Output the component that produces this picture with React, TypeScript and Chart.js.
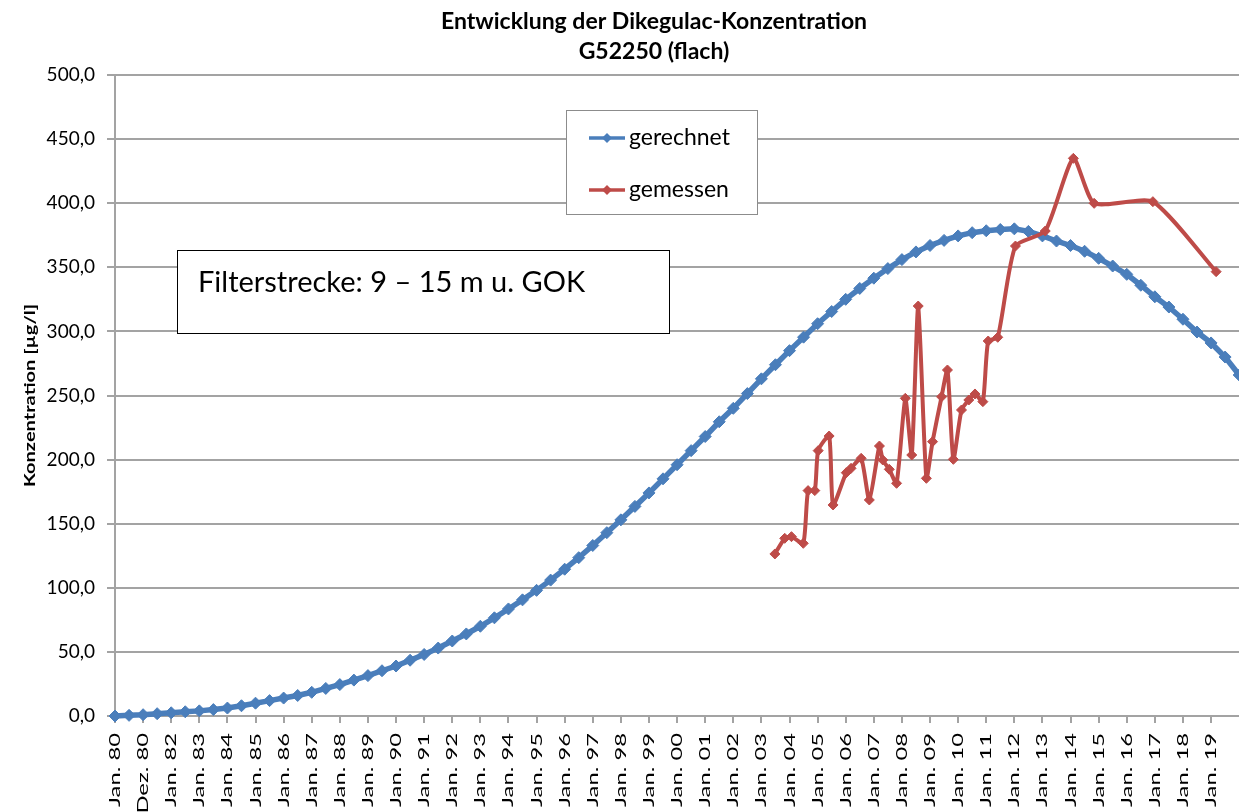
import React, { useEffect, useRef } from 'react';
import { Chart, registerables } from 'chart.js';

Chart.register(...registerables);

const chartTitle = ['Entwicklung der Dikegulac-Konzentration', 'G52250 (flach)'];
const yAxisTitle = 'Konzentration [µg/l]';
const noteText = 'Filterstrecke: 9 – 15 m u. GOK';
const seriesNames = ['gerechnet', 'gemessen'];

const xTickLabels = [
  'Jan. 80', 'Dez. 80', 'Jan. 82', 'Jan. 83', 'Jan. 84', 'Jan. 85', 'Jan. 86', 'Jan. 87', 'Jan. 88', 'Jan. 89',
  'Jan. 90', 'Jan. 91', 'Jan. 92', 'Jan. 93', 'Jan. 94', 'Jan. 95', 'Jan. 96', 'Jan. 97', 'Jan. 98', 'Jan. 99',
  'Jan. 00', 'Jan. 01', 'Jan. 02', 'Jan. 03', 'Jan. 04', 'Jan. 05', 'Jan. 06', 'Jan. 07', 'Jan. 08', 'Jan. 09',
  'Jan. 10', 'Jan. 11', 'Jan. 12', 'Jan. 13', 'Jan. 14', 'Jan. 15', 'Jan. 16', 'Jan. 17', 'Jan. 18', 'Jan. 19',
];
const xStartYear = 1980;
const xEndYear = 2022.2;
const yMin = 0;
const yMax = 500;
const yStep = 50;

// "gerechnet": half-yearly values from Jan. 1980
const calcStep = 0.5;
const calcValues = [
  0, 0.5, 1, 1.8, 2.5, 3.3, 4, 5, 6.2, 8,
  10, 12, 14, 16, 18.5, 21.5, 24.5, 28, 31.5, 35.3,
  39, 43.5, 48, 53, 58.5, 64, 70, 76.6, 83.5, 90.6,
  98, 106, 114.5, 123.5, 133, 143, 153, 163.5, 174, 185,
  196, 207, 218, 229.5, 240, 251.5, 263, 274, 285, 295.5,
  306, 315.5, 325, 333.5, 341.5, 349, 356, 362, 367, 371,
  374.5, 377, 378.5, 379.5, 380, 378, 374.5, 370.5, 367, 362.5,
  357, 351, 344.5, 336, 327, 319, 309.5, 299.5, 291, 280,
  266,
];

// "gemessen": measurement dates (decimal years) and values
const measYears = [
  2003.48, 2003.83, 2004.07, 2004.49, 2004.66, 2004.90, 2005.02, 2005.41, 2005.55, 2006.02,
  2006.19, 2006.55, 2006.84, 2007.20, 2007.32, 2007.55, 2007.81, 2008.12, 2008.35, 2008.58,
  2008.87, 2009.09, 2009.41, 2009.62, 2009.83, 2010.12, 2010.38, 2010.60, 2010.88, 2011.07,
  2011.41, 2012.04, 2013.10, 2014.10, 2014.84, 2016.93, 2019.18,
];
const measValues = [
  126.4, 138.6, 139.9, 134.7, 175.8, 175.8, 207, 218.4, 164.6, 189.8,
  193.2, 201, 168.5, 210.6, 199.7, 192.4, 181.5, 247.8, 203.6, 319.8,
  185.4, 214, 249, 269.9, 200.2, 238.7, 246.5, 251.2, 245.2, 292.5,
  295.4, 366.6, 378.3, 435, 399.9, 401.2, 346.6,
];

const blue = '#4A7EBB';
const red = '#BE4B48';
const gridGray = '#a3a3a3';
const fontFamily = 'Lato';
const xLabelFontSize = 15.5;
const xLabelTargetLength = 74; // px length of "Jan. 80" in the reference
const yTitleFontSize = 16;
const yTitleTargetLength = 183;

function diamond(ctx: CanvasRenderingContext2D, cx: number, cy: number, r: number) {
  ctx.beginPath();
  ctx.moveTo(cx, cy - r);
  ctx.lineTo(cx + r, cy);
  ctx.lineTo(cx, cy + r);
  ctx.lineTo(cx - r, cy);
  ctx.closePath();
  ctx.fill();
}

// Stretch rotated texts along their reading direction, like the reference
const stretchPlugin = {
  id: 'stretchRotatedText',
  beforeDraw(chart: any) {
    const xs = chart.scales.x;
    if (xs) {
      xs.drawLabels = function (chartArea: any) {
        const ctx: CanvasRenderingContext2D = this.ctx;
        const items = this.getLabelItems(chartArea);
        if (!items.length) return;
        ctx.save();
        ctx.font = items[0].font.string;
        const natural = ctx.measureText(xTickLabels[0]).width || 1;
        const stretch = xLabelTargetLength / natural;
        for (const item of items) {
          const o = item.options;
          ctx.save();
          ctx.translate(o.translation[0], o.translation[1]);
          ctx.rotate(o.rotation);
          ctx.scale(stretch, 1);
          ctx.font = item.font.string;
          ctx.fillStyle = o.color;
          ctx.textAlign = o.textAlign;
          ctx.textBaseline = o.textBaseline;
          const lines = Array.isArray(item.label) ? item.label : [item.label];
          let y = item.textOffset || 0;
          for (const line of lines) {
            ctx.fillText(String(line), 0, y);
            y += item.font.lineHeight;
          }
          ctx.restore();
        }
        ctx.restore();
      };
    }
    const ys = chart.scales.y;
    if (ys) {
      ys.drawTitle = function () {
        const t = this.options.title;
        if (!t || !t.display) return;
        const ctx: CanvasRenderingContext2D = this.ctx;
        ctx.save();
        ctx.font = `bold ${yTitleFontSize}px ${fontFamily}`;
        const natural = ctx.measureText(String(t.text)).width || 1;
        const stretch = yTitleTargetLength / natural;
        ctx.translate(this.left + 30, (this.top + this.bottom) / 2);
        ctx.rotate(-Math.PI / 2);
        ctx.scale(stretch, 1);
        ctx.fillStyle = t.color || '#000';
        ctx.textAlign = 'center';
        ctx.textBaseline = 'middle';
        ctx.fillText(String(t.text), 0, 0);
        ctx.restore();
      };
    }
  },
};

const overlayPlugin = {
  id: 'overlayBoxes',
  afterDraw(chart: any) {
    const ctx: CanvasRenderingContext2D = chart.ctx;
    ctx.save();
    // note box
    ctx.fillStyle = '#fff';
    ctx.fillRect(177, 250, 492, 83);
    ctx.strokeStyle = '#000';
    ctx.lineWidth = 1;
    ctx.strokeRect(177.5, 250.5, 492, 83);
    ctx.fillStyle = '#000';
    ctx.font = `29px ${fontFamily}`;
    ctx.textBaseline = 'middle';
    ctx.textAlign = 'left';
    ctx.fillText(noteText, 198, 283);

    // legend box
    ctx.fillStyle = '#fff';
    ctx.fillRect(566, 110, 191, 104);
    ctx.strokeStyle = '#8c8c8c';
    ctx.lineWidth = 1;
    ctx.strokeRect(566.5, 110.5, 191, 104);
    const colors = [blue, red];
    const ys = [138, 190];
    seriesNames.forEach((name, i) => {
      ctx.strokeStyle = colors[i];
      ctx.fillStyle = colors[i];
      ctx.lineWidth = 3.5;
      ctx.beginPath();
      ctx.moveTo(589, ys[i]);
      ctx.lineTo(625, ys[i]);
      ctx.stroke();
      diamond(ctx, 607, ys[i], 5);
      ctx.fillStyle = '#000';
      ctx.font = `23px ${fontFamily}`;
      ctx.fillText(name, 629, ys[i]);
    });
    ctx.restore();
  },
};

export default function App() {
  const ref = useRef<HTMLCanvasElement>(null);

  useEffect(() => {
    if (!ref.current) return;
    Chart.defaults.font.family = fontFamily;
    Chart.defaults.color = '#000';
    const chart = new Chart(ref.current, {
      type: 'line',
      data: {
        datasets: [
          {
            label: seriesNames[0],
            data: calcValues.map((v, i) => ({ x: xStartYear + i * calcStep, y: v })),
            borderColor: blue,
            backgroundColor: blue,
            borderWidth: 5.5,
            pointStyle: 'rectRot',
            pointRadius: 6,
            pointBorderWidth: 1,
            pointBackgroundColor: blue,
            pointBorderColor: blue,
            tension: 0,
            clip: false,
            order: 2,
          },
          {
            label: seriesNames[1],
            data: measValues.map((v, i) => ({ x: measYears[i], y: v })),
            borderColor: red,
            backgroundColor: red,
            borderWidth: 4,
            pointStyle: 'rectRot',
            pointRadius: 5,
            pointBorderWidth: 1,
            pointBackgroundColor: red,
            pointBorderColor: red,
            tension: 0.2,
            clip: false,
            order: 1,
          },
        ],
      } as any,
      options: {
        responsive: false,
        animation: false,
        layout: { padding: { left: 0, right: 0, top: 0, bottom: 0 } },
        plugins: {
          legend: { display: false },
          tooltip: { enabled: false },
          title: {
            display: true,
            text: chartTitle,
            color: '#000',
            font: { family: fontFamily, size: 23, weight: 'bold', lineHeight: 30 / 23 },
            padding: { top: 7, bottom: 8 },
          },
        },
        scales: {
          x: {
            type: 'linear',
            min: xStartYear,
            max: xEndYear,
            afterBuildTicks: (scale: any) => {
              scale.ticks = xTickLabels.map((_, i) => ({ value: xStartYear + i }));
            },
            afterFit: (scale: any) => {
              scale.height = 96;
            },
            ticks: {
              autoSkip: false,
              minRotation: 90,
              maxRotation: 90,
              padding: 10,
              color: '#000',
              font: { family: fontFamily, size: xLabelFontSize },
              callback: (value: any) => xTickLabels[Math.round(Number(value) - xStartYear)] ?? '',
            },
            grid: { drawOnChartArea: false, drawTicks: true, tickLength: 7, color: gridGray, lineWidth: 2 },
            border: { color: gridGray, width: 2 },
          },
          y: {
            min: yMin,
            max: yMax,
            afterFit: (scale: any) => {
              scale.width = 115;
            },
            ticks: {
              stepSize: yStep,
              padding: 12,
              color: '#000',
              font: { family: fontFamily, size: 19 },
              callback: (value: any) => Number(value).toFixed(1).replace('.', ','),
            },
            grid: { color: gridGray, lineWidth: 2, tickLength: 8 },
            border: { color: gridGray, width: 2 },
            title: {
              display: true,
              text: yAxisTitle,
              color: '#000',
              font: { family: fontFamily, size: yTitleFontSize, weight: 'bold', lineHeight: 1.2 },
              padding: { top: 21, bottom: 0 },
            },
          },
        },
      } as any,
      plugins: [stretchPlugin, overlayPlugin],
    });
    return () => chart.destroy();
  }, []);

  return (
    <div
      style={{
        position: 'fixed',
        left: 0,
        top: 0,
        width: 1239,
        height: 812,
        overflow: 'hidden',
        background: '#fff',
      }}
    >
      <canvas ref={ref} width={1308} height={812} style={{ display: 'block', width: 1308, height: 812 }} />
    </div>
  );
}
